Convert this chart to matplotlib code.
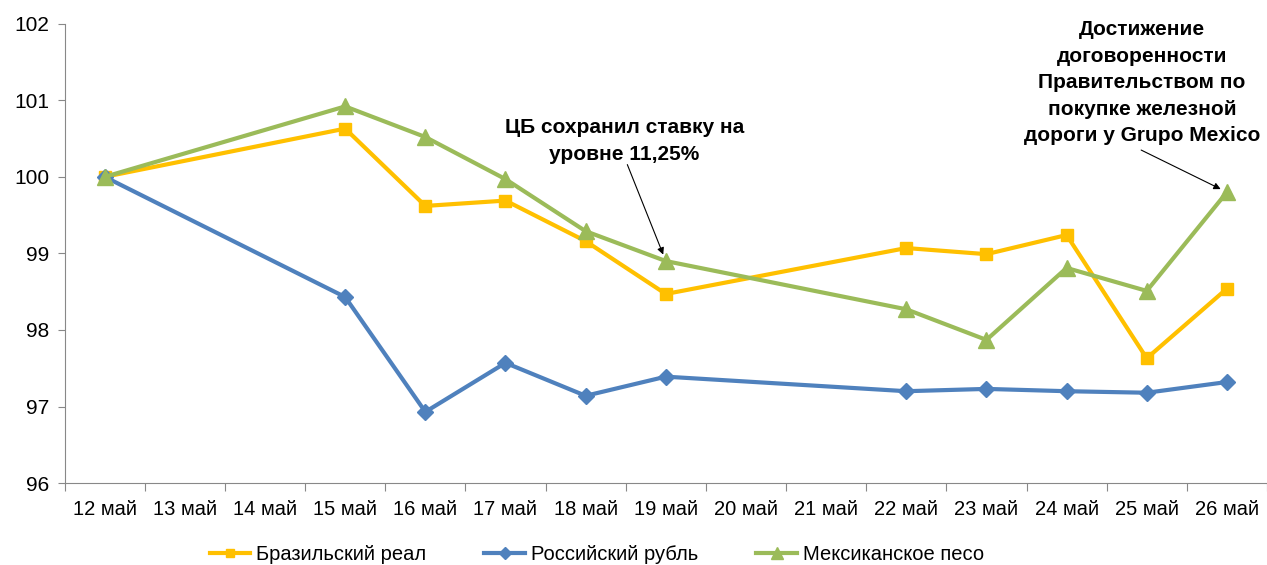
import matplotlib
matplotlib.use('Agg')
import matplotlib.pyplot as plt
import numpy as np

days = ["12 май", "13 май", "14 май", "15 май", "16 май", "17 май", "18 май", "19 май",
        "20 май", "21 май", "22 май", "23 май", "24 май", "25 май", "26 май"]
# days with data (index into days)
obs_days = ["12 май", "15 май", "16 май", "17 май", "18 май", "19 май",
            "22 май", "23 май", "24 май", "25 май", "26 май"]
brl = [100.0, 100.63, 99.62, 99.69, 99.16, 98.47, 99.07, 98.99, 99.24, 97.63, 98.54]
rub = [100.0, 98.43, 96.93, 97.57, 97.14, 97.39, 97.20, 97.23, 97.20, 97.18, 97.32]
mxn = [100.0, 100.92, 100.52, 99.97, 99.29, 98.90, 98.27, 97.87, 98.81, 98.51, 99.80]

plt.rcParams['font.family'] = ['Liberation Sans', 'DejaVu Sans']

fig = plt.figure(figsize=(12.67, 5.65), dpi=100)
ax = fig.add_axes([0.051, 0.145, 0.949, 0.813])

x = [days.index(d) for d in obs_days]
ax.plot(x, brl, color='#FFC000', lw=3, marker='s', ms=8, label='Бразильский реал')
ax.plot(x, rub, color='#4F81BD', lw=3, marker='D', ms=8, label='Российский рубль')
ax.plot(x, mxn, color='#9BBB59', lw=3, marker='^', ms=11, label='Мексиканское песо')

ax.set_xlim(-0.5, len(days) - 0.5)
ax.set_ylim(96, 102)
ax.set_yticks(range(96, 103))
ax.set_xticks(np.arange(-0.5, len(days), 1.0))
ax.set_xticklabels([])
ax.set_xticks(range(len(days)), minor=True)
ax.set_xticklabels(days, minor=True)
ax.tick_params(axis='x', which='minor', length=0, labelsize=14.5, pad=12)
ax.tick_params(axis='x', which='major', length=6, color='#888888')
ax.tick_params(axis='y', length=5, color='#888888', labelsize=15, pad=6)

for s in ['top', 'right']:
    ax.spines[s].set_visible(False)
for s in ['left', 'bottom']:
    ax.spines[s].set_color('#888888')

# annotations: text and arrow drawn separately
arrow = dict(arrowstyle='-|>', color='black', lw=0.8, mutation_scale=10, shrinkA=0, shrinkB=5)
ax.text(6.48, 100.47, "ЦБ сохранил ставку на\nуровне 11,25%",
        ha='center', va='center', fontsize=15, fontweight='bold', linespacing=1.5)
ax.annotate("", xy=(7, 98.90), xytext=(6.52, 100.16), arrowprops=arrow)

ax.text(12.94, 101.23,
        "Достижение\nдоговоренности\nПравительством по\nпокупке железной\nдороги у Grupo Mexico",
        ha='center', va='center', fontsize=15, fontweight='bold', linespacing=1.5)
ax.annotate("", xy=(14, 99.80), xytext=(12.93, 100.35), arrowprops=arrow)

fig.legend(loc='lower center', bbox_to_anchor=(0.471, -0.03), ncol=3, frameon=False,
           fontsize=14.5, handlelength=2, handletextpad=0.3, columnspacing=2.9,
           markerscale=0.8)

fig.savefig('out.png', dpi=100)
